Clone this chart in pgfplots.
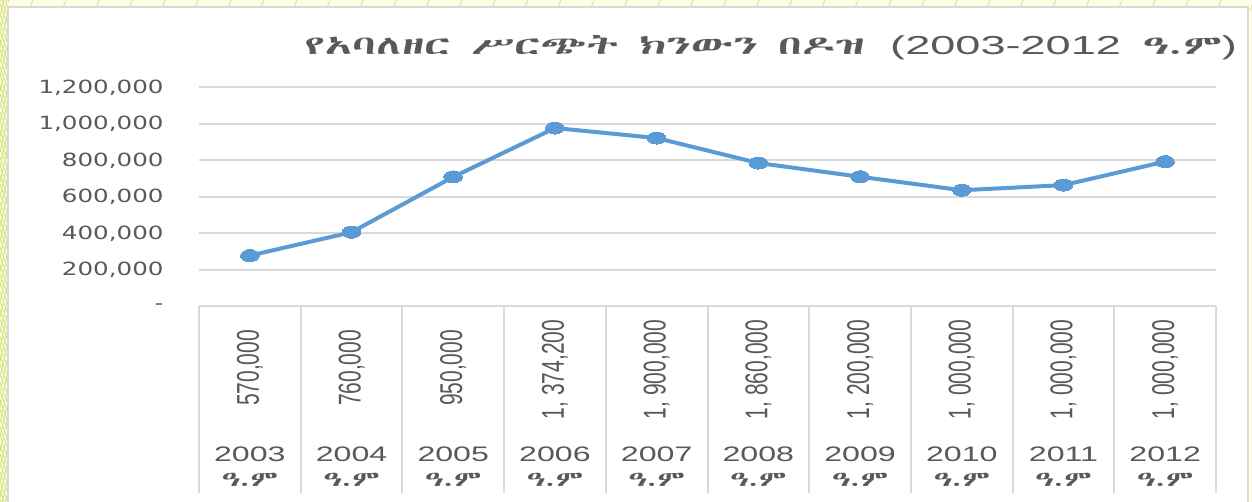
\documentclass[border=0pt]{standalone}
\usepackage{pgfplots}
\pgfplotsset{compat=1.18}
\usepackage{graphicx}
\usepackage{fontspec}
\setmainfont{Liberation Sans}
\newfontfamily\dejavu{DejaVu Sans}
\IfFontExistsTF{Abyssinica SIL}{\newfontfamily\eth{Abyssinica SIL}}{%
  \IfFontExistsTF{FreeSerif}{\newfontfamily\eth{FreeSerif}}{\newfontfamily\eth{DejaVu Sans}}}
\definecolor{txt}{HTML}{595959}
\definecolor{gridc}{HTML}{D9D9D9}
\definecolor{linec}{HTML}{5B9BD5}
\definecolor{bgy}{HTML}{FDFDE8}
\definecolor{pat}{HTML}{D6E27A}
\newcommand{\ys}[1]{\scalebox{1.35}[1]{\fontsize{9.1}{11}\selectfont\dejavu #1}}
\newcommand{\xl}[1]{\scalebox{1.53}[1]{#1}\\\scalebox{1.53}[1]{\eth ዓ.ም}}
\newcommand{\tv}[1]{\scalebox{1.5}[1]{\rotatebox{90}{\fontsize{10.5}{12}\selectfont #1}}}
\begin{document}
\begin{tikzpicture}
\begin{scope}[x=0.5pt,y=0.5pt]
\useasboundingbox (0,0) rectangle (1252,502);
\begin{scope}
\clip (0,0) rectangle (1252,502);
\fill[bgy] (0,0) rectangle (1252,502);
\foreach \i in {0,33,...,1260} \draw[pat, line width=0.4pt] (\i,502) -- (\i-4,492);
\foreach \j in {-40,-25,...,520} \draw[pat, line width=0.4pt] (0,\j) -- (9,\j+40);
\foreach \j in {-40,-31,...,520} \draw[pat, line width=0.4pt] (9,\j) -- (0,\j+25);
\fill[white] (8,-20) rectangle (1248,495);
\draw[gridc, line width=1pt] (8,-20) rectangle (1248,495);
\end{scope}
\node[anchor=base, text=txt, inner sep=0pt] at (771,447) {\resizebox{466pt}{\height}{\fontsize{13}{15}\selectfont {\eth የአባለዘር ሥርጭት ክንውን በዶዝ}\hspace{0.3em} (2003-2012\hspace{0.2em} {\eth ዓ.ም})}};
\end{scope}
\begin{axis}[
  at={(99.5pt,97.75pt)}, anchor=south west,
  scale only axis, width=508.5pt, height=109.5pt,
  xmin=0.5, xmax=10.5, ymin=0, ymax=1200000,
  clip=false,
  axis line style={draw=none},
  major tick length=0pt,
  scaled y ticks=false,
  ytick={0,200000,400000,600000,800000,1000000,1200000},
  yticklabels={{\ys{-}\hspace{9pt}},{\ys{200,000}},{\ys{400,000}},{\ys{600,000}},{\ys{800,000}},{\ys{1,000,000}},{\ys{1,200,000}}},
  yticklabel style={anchor=east, inner sep=0pt, xshift=-17.5pt, text=txt},
  ymajorgrids,
  grid style={gridc, line width=1pt},
  xtick={1,2,3,4,5,6,7,8,9,10},
  xticklabels={{\xl{2003}},{\xl{2004}},{\xl{2005}},{\xl{2006}},{\xl{2007}},{\xl{2008}},{\xl{2009}},{\xl{2010}},{\xl{2011}},{\xl{2012}}},
  xticklabel style={font=\fontsize{10.5}{12.5}\selectfont, align=center, anchor=north, inner sep=0pt, yshift=-69.75pt, text=txt},
]
\addplot[linec, line width=2pt, mark=*, mark size=3pt, mark options={xscale=1.55, fill=linec, draw=linec, line width=0pt}]
 coordinates {(1,279000)(2,407000)(3,710000)(4,978000)(5,923000)(6,786000)(7,711000)(8,637000)(9,665000)(10,794000)};
\addplot[draw=none, mark=none, point meta=explicit symbolic,
  nodes near coords={\tv{\pgfplotspointmeta}},
  every node near coord/.append style={anchor=center, inner sep=0pt, text=txt}]
 coordinates {(1,-337000)[570,000] (2,-337000)[760,000] (3,-337000)[950,000] (4,-345000)[1, 374,200] (5,-345000)[1, 900,000] (6,-345000)[1, 860,000] (7,-345000)[1, 200,000] (8,-345000)[1, 000,000] (9,-345000)[1, 000,000] (10,-345000)[1, 000,000]};
\pgfplotsinvokeforeach{0.5,1.5,2.5,3.5,4.5,5.5,6.5,7.5,8.5,9.5,10.5}{
  \draw[gridc, line width=1pt] (axis cs:#1,0) -- (axis cs:#1,-1022000);
}
\end{axis}
\end{tikzpicture}
\end{document}
